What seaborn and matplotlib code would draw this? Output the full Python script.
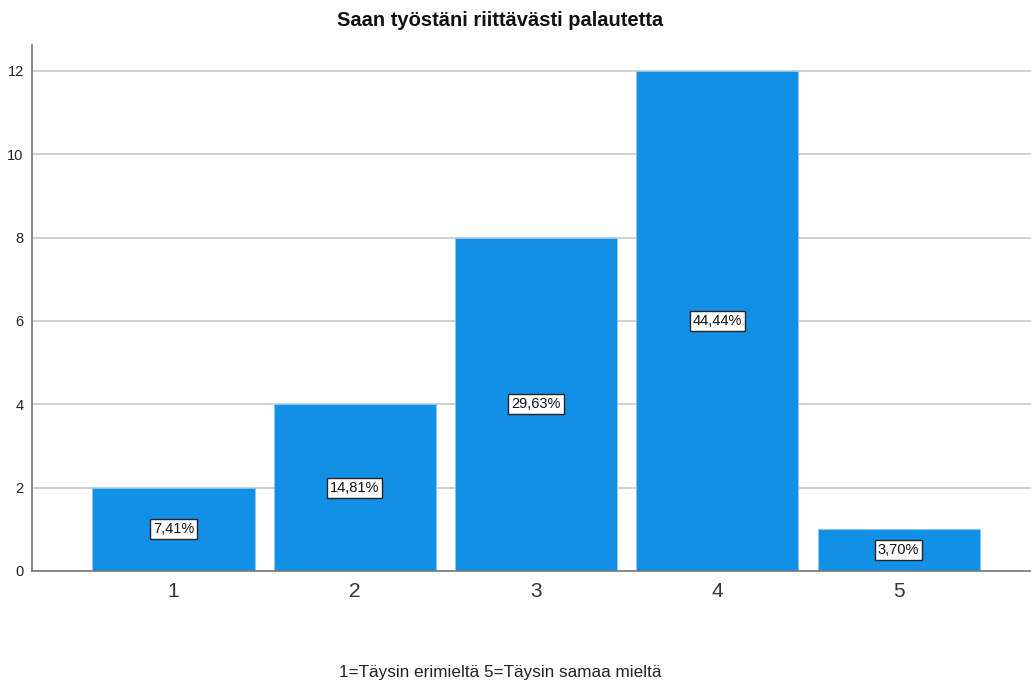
import matplotlib
matplotlib.use("Agg")
import matplotlib.pyplot as plt
import seaborn as sns
import pandas as pd

categories = ["1", "2", "3", "4", "5"]
counts = [2, 4, 8, 12, 1]
title = "Saan työstäni riittävästi palautetta"
xlabel = "1=Täysin erimieltä 5=Täysin samaa mieltä"
yticks = [0, 2, 4, 6, 8, 10, 12]

sns.set_theme(style="white")
plt.rcParams["font.family"] = ["Liberation Sans", "DejaVu Sans"]

df = pd.DataFrame({"category": categories, "count": counts})
total = sum(counts)

fig = plt.figure(figsize=(10.31, 6.84), dpi=100)
ax = fig.add_axes([32 / 1031, (684 - 571) / 684, 1 - 32 / 1031, (571 - 45) / 684])

sns.barplot(data=df, x="category", y="count", color="#1290e6", saturation=1,
            width=0.895, edgecolor="#8ccaf3", linewidth=0.6, ax=ax, zorder=2)

ax.set_ylim(0, 12.62)
ax.set_xlim(-0.78, 4.73)
ax.set_yticks(yticks)
ax.set_yticklabels([str(t) for t in yticks], fontsize=10.5, color="#222222")
ax.tick_params(axis="x", labelsize=15, colors="#333333", length=0, pad=8)
ax.tick_params(axis="y", length=0, pad=6)
ax.yaxis.grid(True, color="#c8c8c8", linewidth=1.2, zorder=0)
ax.set_axisbelow(True)

for side in ["top", "right"]:
    ax.spines[side].set_visible(False)
for side in ["left", "bottom"]:
    ax.spines[side].set_color("#777777")
    ax.spines[side].set_linewidth(1.2)

for i, c in enumerate(counts):
    pct = f"{100 * c / total:.2f}".replace(".", ",") + "%"
    ax.text(i, c / 2, pct, ha="center", va="center", fontsize=10.5, color="#111111",
            bbox=dict(boxstyle="square,pad=0.2", facecolor="white",
                      edgecolor="#222222", linewidth=1.0), zorder=5)

ax.set_xlabel("")
ax.set_ylabel("")
fig.text(500 / 1031, 1 - 20 / 684, title, ha="center", va="center",
         fontsize=14.5, fontweight="bold", color="#111111")
fig.text(500 / 1031, 1 - 672 / 684, xlabel, ha="center", va="center",
         fontsize=12.3, color="#222222")

fig.savefig("out.png", dpi=100)
